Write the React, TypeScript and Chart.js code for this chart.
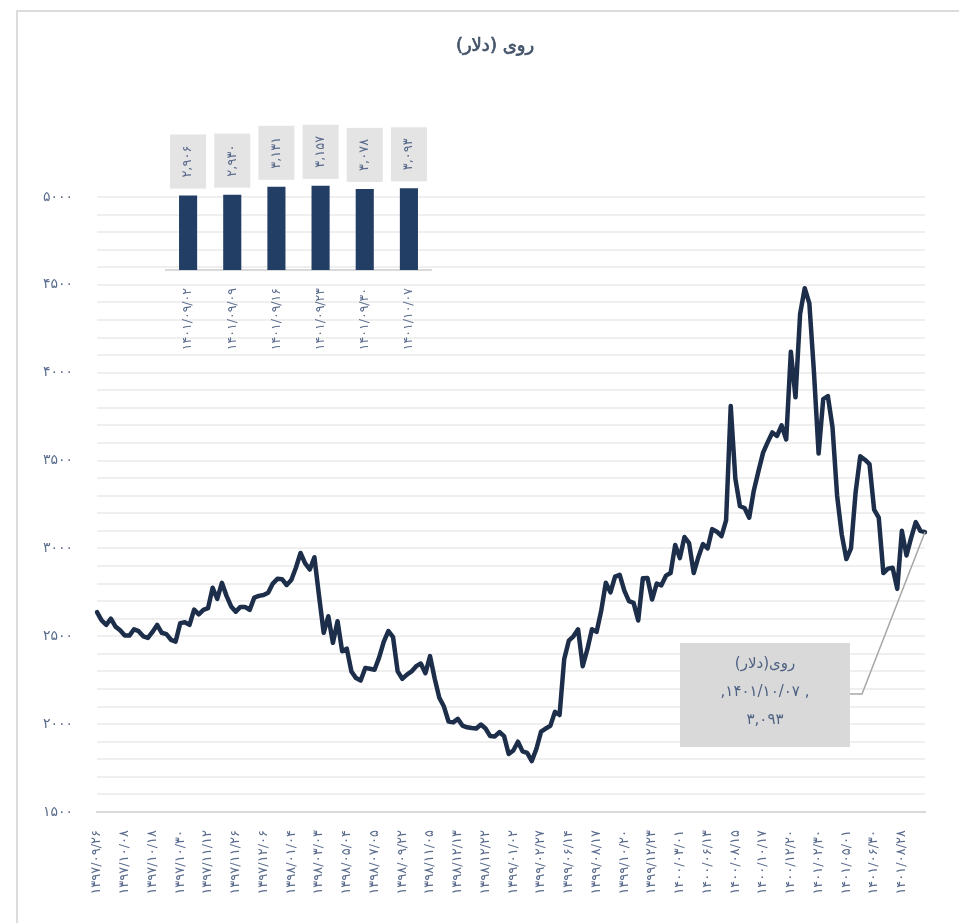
import React, { useEffect, useRef } from "react";
import { Chart, registerables } from "chart.js";

Chart.register(...registerables);

const FONT = '"DejaVu Sans", "Noto Sans", sans-serif';
const TICK_COLOR = "#5a6b8c";
const TITLE_COLOR = "#44546a";
const LINE_COLOR = "#1c2e4a";
const BAR_COLOR = "#233e64";

const TITLE = "روی (دلار)";
const SERIES_NAME = "روی(دلار)";
const LAST_DATE = "۱۴۰۱/۱۰/۰۷";

// every 6th point carries a date label
const LABEL_STEP = 6;
const dateLabels = [
  "۱۳۹۷/۰۹/۲۶", "۱۳۹۷/۱۰/۰۸", "۱۳۹۷/۱۰/۱۸", "۱۳۹۷/۱۰/۳۰", "۱۳۹۷/۱۱/۱۲",
  "۱۳۹۷/۱۱/۲۶", "۱۳۹۷/۱۲/۰۶", "۱۳۹۸/۰۱/۰۴", "۱۳۹۸/۰۳/۰۳", "۱۳۹۸/۰۵/۰۴",
  "۱۳۹۸/۰۷/۰۵", "۱۳۹۸/۰۹/۲۲", "۱۳۹۸/۱۱/۰۵", "۱۳۹۸/۱۲/۱۳", "۱۳۹۸/۱۲/۲۲",
  "۱۳۹۹/۰۱/۰۲", "۱۳۹۹/۰۲/۲۷", "۱۳۹۹/۰۶/۱۴", "۱۳۹۹/۰۸/۱۷", "۱۳۹۹/۱۰/۲۰",
  "۱۳۹۹/۱۲/۲۳", "۱۴۰۰/۰۳/۰۱", "۱۴۰۰/۰۶/۱۳", "۱۴۰۰/۰۸/۱۵", "۱۴۰۰/۱۰/۱۷",
  "۱۴۰۰/۱۲/۲۰", "۱۴۰۱/۰۲/۳۰", "۱۴۰۱/۰۵/۰۱", "۱۴۰۱/۰۶/۳۰", "۱۴۰۱/۰۸/۲۸",
];

const zincPrices = [
  2637, 2590, 2565, 2600, 2555, 2534, 2504, 2504, 2540, 2529,
  2500, 2491, 2525, 2565, 2520, 2512, 2480, 2470, 2575, 2580,
  2565, 2652, 2625, 2650, 2660, 2776, 2713, 2804, 2730, 2670,
  2640, 2667, 2667, 2650, 2720, 2730, 2735, 2748, 2800, 2827,
  2825, 2792, 2820, 2890, 2974, 2915, 2880, 2950, 2730, 2520,
  2614, 2463, 2586, 2415, 2430, 2300, 2262, 2248, 2320, 2315,
  2310, 2380, 2470, 2530, 2495, 2300, 2258, 2282, 2300, 2330,
  2345, 2290, 2387, 2260, 2150, 2100, 2015, 2010, 2030, 1992,
  1982, 1978, 1975, 1998, 1975, 1932, 1930, 1955, 1932, 1830,
  1850, 1900, 1845, 1836, 1790, 1860, 1957, 1975, 1990, 2070,
  2052, 2370, 2475, 2500, 2540, 2330, 2425, 2540, 2525, 2645,
  2805, 2750, 2840, 2850, 2760, 2700, 2690, 2590, 2830, 2832,
  2709, 2800, 2790, 2845, 2860, 3020, 2945, 3065, 3030, 2860,
  2950, 3025, 3000, 3110, 3095, 3070, 3160, 3810, 3397, 3240,
  3230, 3175, 3330, 3440, 3545, 3605, 3660, 3640, 3700, 3620,
  4120, 3860, 4335, 4481, 4395, 4000, 3540, 3850, 3867, 3690,
  3300, 3080, 2940, 3000, 3320, 3525, 3505, 3480, 3221, 3175,
  2860, 2885, 2890, 2770, 3100, 2960, 3060, 3150, 3100, 3093,
];

const Y_MIN = 1500;
const Y_MAX = 5000;
const Y_STEP = 100;
const Y_LABEL_STEP = 500;

const insetDates = ["۱۴۰۱/۰۹/۰۲", "۱۴۰۱/۰۹/۰۹", "۱۴۰۱/۰۹/۱۶", "۱۴۰۱/۰۹/۲۳", "۱۴۰۱/۰۹/۳۰", "۱۴۰۱/۱۰/۰۷"];
const insetValues = [2906, 2930, 3131, 3157, 3078, 3093];

const FA = "۰۱۲۳۴۵۶۷۸۹";
const toFa = (s: string | number) => String(s).replace(/[0-9]/g, (d) => FA[+d]);
const fmt = (n: number) => toFa(n.toLocaleString("en-US"));

const fullLabels = zincPrices.map((_, i) => (i % LABEL_STEP === 0 ? dateLabels[i / LABEL_STEP] || "" : ""));

const overlayPlugin = {
  id: "overlay",
  afterDraw(chart: any) {
    const ctx = chart.ctx;
    ctx.save();
    // title
    ctx.direction = "rtl";
    ctx.font = `18px ${FONT}`;
    ctx.fillStyle = TITLE_COLOR;
    ctx.strokeStyle = TITLE_COLOR;
    ctx.lineWidth = 0.7;
    ctx.textAlign = "center";
    ctx.textBaseline = "middle";
    ctx.fillText(TITLE, 495, 46);
    ctx.strokeText(TITLE, 495, 46);

    // callout
    const meta = chart.getDatasetMeta(0);
    const last = meta.data[meta.data.length - 1];
    const bx = 680, by = 643, bw = 170, bh = 104;
    ctx.strokeStyle = "#a6a6a6";
    ctx.lineWidth = 1.5;
    ctx.beginPath();
    ctx.moveTo(bx + bw, by + 51);
    ctx.lineTo(bx + bw + 12, by + 51);
    ctx.lineTo(last.x, last.y);
    ctx.stroke();
    ctx.fillStyle = "#d9d9d9";
    ctx.fillRect(bx, by, bw, bh);
    ctx.fillStyle = "#4e6183";
    ctx.font = `15px ${FONT}`;
    ctx.direction = "rtl";
    ctx.fillText(SERIES_NAME, bx + bw / 2, by + 21);
    ctx.direction = "ltr";
    ctx.fillText("," + LAST_DATE + " ,", bx + bw / 2, by + 49);
    ctx.fillText(fmt(zincPrices[zincPrices.length - 1]), bx + bw / 2, by + 77);
    ctx.restore();
  },
};

const valueBoxPlugin = {
  id: "valueBoxes",
  afterDatasetsDraw(chart: any) {
    const ctx = chart.ctx;
    const meta = chart.getDatasetMeta(0);
    ctx.save();
    ctx.font = `13px ${FONT}`;
    meta.data.forEach((bar: any, i: number) => {
      const text = fmt(insetValues[i]);
      const w = ctx.measureText(text).width;
      const boxH = w + 22;
      const boxW = 36;
      const bottom = bar.y - 7;
      ctx.fillStyle = "#e4e4e4";
      ctx.fillRect(bar.x - boxW / 2, bottom - boxH, boxW, boxH);
      ctx.save();
      ctx.translate(bar.x, bottom - boxH / 2);
      ctx.rotate(-Math.PI / 2);
      ctx.fillStyle = TICK_COLOR;
      ctx.textAlign = "center";
      ctx.textBaseline = "middle";
      ctx.fillText(text, 0, 0);
      ctx.restore();
    });
    ctx.restore();
  },
};

export default function App() {
  const mainRef = useRef<HTMLCanvasElement>(null);
  const insetRef = useRef<HTMLCanvasElement>(null);

  useEffect(() => {
    const main = new Chart(mainRef.current as HTMLCanvasElement, {
      type: "line",
      data: {
        labels: fullLabels,
        datasets: [
          {
            data: zincPrices,
            borderColor: LINE_COLOR,
            borderWidth: 4.5,
            pointRadius: 0,
            tension: 0,
            borderJoinStyle: "round",
            borderCapStyle: "round",
            fill: false,
          },
        ],
      },
      options: {
        animation: false,
        responsive: false,
        maintainAspectRatio: false,
        layout: { padding: { left: 0, top: 197, right: 34, bottom: 0 } },
        plugins: { legend: { display: false }, tooltip: { enabled: false }, title: { display: false } },
        scales: {
          x: {
            type: "category",
            offset: false,
            grid: { display: false },
            border: { display: true, color: "#d9d9d9", width: 2 },
            ticks: {
              autoSkip: false,
              maxRotation: 90,
              minRotation: 90,
              padding: 10,
              color: TICK_COLOR,
              font: { family: FONT, size: 13 },
              callback: (_v: any, i: number) => fullLabels[i],
            },
            afterFit: (s: any) => {
              s.height = 111;
            },
          },
          y: {
            min: Y_MIN,
            max: Y_MAX,
            border: { display: false },
            grid: { color: "#efefef", lineWidth: 2, drawTicks: false },
            ticks: {
              stepSize: Y_STEP,
              autoSkip: false,
              padding: 24,
              color: TICK_COLOR,
              font: { family: FONT, size: 14 },
              callback: (v: any) => (Number(v) % Y_LABEL_STEP === 0 ? toFa(v) : ""),
            },
            afterFit: (s: any) => {
              s.width = 97;
            },
          },
        },
      } as any,
      plugins: [overlayPlugin],
    } as any);

    const inset = new Chart(insetRef.current as HTMLCanvasElement, {
      type: "bar",
      data: {
        labels: insetDates,
        datasets: [
          {
            data: insetValues,
            backgroundColor: BAR_COLOR,
            borderWidth: 0,
            categoryPercentage: 1,
            barPercentage: 0.41,
          },
        ],
      },
      options: {
        animation: false,
        responsive: false,
        maintainAspectRatio: false,
        layout: { padding: { left: 6, right: 10, top: 0, bottom: 0 } },
        plugins: { legend: { display: false }, tooltip: { enabled: false } },
        scales: {
          x: {
            grid: { display: false },
            border: { display: true, color: "#d9d9d9", width: 2 },
            ticks: {
              autoSkip: false,
              maxRotation: 90,
              minRotation: 90,
              padding: 10,
              color: TICK_COLOR,
              font: { family: FONT, size: 12.5 },
            },
            afterFit: (s: any) => {
              s.height = 100;
            },
          },
          y: { display: false, min: 1000, max: 5100 },
        },
      } as any,
      plugins: [valueBoxPlugin],
    } as any);

    return () => {
      main.destroy();
      inset.destroy();
    };
  }, []);

  return (
    <div
      style={{
        position: "fixed",
        left: 0,
        top: 0,
        width: 959,
        height: 923,
        overflow: "hidden",
        background: "#ffffff",
      }}
    >
      <div
        style={{
          position: "absolute",
          left: 16,
          top: 10,
          width: 1000,
          height: 1000,
          borderLeft: "2px solid #dcdcdc",
          borderTop: "2px solid #dcdcdc",
        }}
      />
      <canvas
        ref={mainRef}
        width={959}
        height={923}
        style={{ position: "absolute", left: 0, top: 0, width: 959, height: 923 }}
      />
      <canvas
        ref={insetRef}
        width={281}
        height={260}
        style={{ position: "absolute", left: 160, top: 110, width: 281, height: 260 }}
      />
    </div>
  );
}
